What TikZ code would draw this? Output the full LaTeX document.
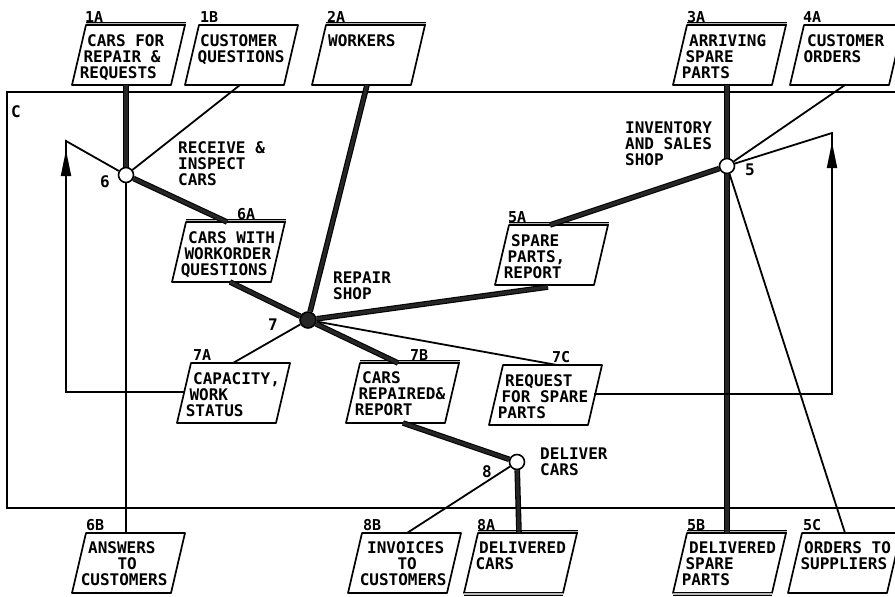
\documentclass[tikz,border=0pt]{standalone}
\usepackage{fontspec}
\newfontfamily\plotfont{DejaVu Sans Mono}
\newfontfamily\plotfontb{DejaVu Sans Mono Bold}
\usetikzlibrary{arrows.meta,calc}
\tikzset{
  bx/.style={line width=1.7pt, line join=round},
  bar/.style={line width=0.8pt, double=gray!55, double distance=1.8pt},
  heavy/.style={line width=1.1pt, double=black!85, double distance=3.4pt},
  info/.style={line width=1.8pt},
  boundary/.style={line width=2pt},
  txt/.style={font=\plotfontb\fontsize{16}{16}\selectfont, inner sep=0pt, anchor=base west},
  lbl/.style={font=\plotfontb\fontsize{15}{15}\selectfont, inner sep=0pt, anchor=base west},
  proc/.style={circle, draw, line width=1.6pt, minimum size=15pt, inner sep=0pt, fill=white},
  procfill/.style={circle, draw, line width=1.6pt, minimum size=16pt, inner sep=0pt, fill=black!85},
  fbarrow/.style={info, -{Triangle[length=26pt,width=10pt]}},
}
% parallelogram flow box: name, x bottom-left, y top, label x, label
\newcommand\pbox[5]{%
  \coordinate (#1-bl) at (#2,#3+60);
  \coordinate (#1-br) at (#2+99,#3+60);
  \coordinate (#1-tl) at (#2+14,#3);
  \coordinate (#1-tr) at (#2+113,#3);
  \draw[bx] (#1-bl) -- (#1-br) -- (#1-tr) -- (#1-tl) -- cycle;
  \node[lbl] (#1-id) at (#4,#3-3) {#5};
}
\newcommand\topbar[1]{\draw[bar] ($(#1-tl)+(0,-1.5)$) -- ($(#1-tr)+(1,-1.5)$);}
\newcommand\botbar[1]{\draw[bar] ($(#1-bl)+(0,1)$) -- ($(#1-br)+(0,1)$);}
% text lines: name, x, baseline y, shift per line, lines
\newcommand\ftxt[5]{%
  \foreach \tline [count=\i from 0] in {#5}{%
    \node[txt] (#1-t\i) at ({#2-#4*\i},{#3+16*\i}) {\tline};}%
}
\begin{document}
\begin{tikzpicture}[x=1pt,y=-1pt]
\useasboundingbox (0,0) rectangle (895,597);
\clip (0,0) rectangle (895,597);
\fill[white] (0,0) rectangle (895,597);

% system boundary C
\draw[boundary] (905,508) -- (7,508) -- (7,92) -- (905,92);
\node[txt] (clabel) at (11,117) {C};

% processes
\node[proc] (n6) at (126,175) {};
\node[proc] (n5) at (727,166) {};
\node[procfill] (n7) at (308,320) {};
\node[proc] (n8) at (517,462) {};
\node[txt, anchor=center] (n6-no) at (105,182) {6};
\node[txt, anchor=center] (n5-no) at (750,170) {5};
\node[txt, anchor=center] (n7-no) at (273,325) {7};
\node[txt, anchor=center] (n8-no) at (487,472) {8};
\ftxt{n6}{178}{153}{0}{{RECEIVE \&},{INSPECT},{CARS}}
\ftxt{n5}{625}{133}{0}{{INVENTORY},{AND SALES},{SHOP}}
\ftxt{n7}{333}{283}{0}{{REPAIR},{SHOP}}
\ftxt{n8}{540}{459}{0}{{DELIVER},{CARS}}

% flow boxes
\pbox{b1A}{72}{25}{85}{1A}   \topbar{b1A}
\ftxt{b1A}{87}{46}{3.7}{{CARS FOR},{REPAIR \&},{REQUESTS}}
\pbox{b1B}{185}{25}{200}{1B}
\ftxt{b1B}{200}{46}{2.5}{{CUSTOMER},{QUESTIONS}}
\pbox{b2A}{312}{25}{327}{2A}  \topbar{b2A}
\ftxt{b2A}{328}{46}{3.7}{{WORKERS}}
\pbox{b3A}{673}{25}{687}{3A}  \topbar{b3A}
\ftxt{b3A}{689}{46}{3.7}{{ARRIVING},{SPARE},{PARTS}}
\pbox{b4A}{790}{25}{803}{4A}
\ftxt{b4A}{807}{46}{3.7}{{CUSTOMER},{ORDERS}}
\pbox{b6A}{172}{222}{237}{6A}  \topbar{b6A}
\ftxt{b6A}{188}{243}{3.7}{{CARS WITH},{WORKORDER},{QUESTIONS}}
\pbox{b5A}{495}{225}{508}{5A}  \topbar{b5A}
\ftxt{b5A}{511}{246}{3.7}{{SPARE},{PARTS,},{REPORT}}
\pbox{b7A}{177}{363}{193}{7A}
\ftxt{b7A}{193}{384}{3.7}{{CAPACITY,},{WORK},{STATUS}}
\pbox{b7B}{346}{363}{410}{7B}  \topbar{b7B}
\ftxt{b7B}{362}{383}{3.7}{{CARS},{REPAIRED\&},{REPORT}}
\pbox{b7C}{489}{365}{552}{7C}
\ftxt{b7C}{505}{386}{3.7}{{REQUEST},{FOR SPARE},{PARTS}}
\pbox{b6B}{72}{533}{86}{6B}
\ftxt{b6B}{88}{553}{3.7}{{ANSWERS},{\hspace*{33pt}TO},{CUSTOMERS}}
\pbox{b8B}{348}{533}{363}{8B}
\ftxt{b8B}{367}{553}{3.7}{{INVOICES},{\hspace*{34pt}TO},{CUSTOMERS}}
\pbox{b8A}{464}{533}{477}{8A}  \topbar{b8A} \botbar{b8A}
\ftxt{b8A}{479}{553}{3.7}{{DELIVERED},{CARS}}
\pbox{b5B}{673}{533}{687}{5B}  \topbar{b5B} \botbar{b5B}
\ftxt{b5B}{689}{553}{3.7}{{DELIVERED},{SPARE},{PARTS}}
\pbox{b5C}{788}{533}{803}{5C}
\ftxt{b5C}{804}{553}{3.7}{{ORDERS TO},{SUPPLIERS}}

% connection points on boxes
\coordinate (p1A) at (126,85);
\coordinate (p1B) at (240,85);
\coordinate (p2A) at (367,85);
\coordinate (p3A) at (727,85);
\coordinate (p4A) at (845,85);
\coordinate (p6Ain) at (227,222);
\coordinate (p6Aout) at (230,282);
\coordinate (p5Ain) at (550,225);
\coordinate (p5Aout) at (548,287);
\coordinate (p7A) at (233,363);
\coordinate (p7B) at (398,363);
\coordinate (p7Bout) at (403,423);
\coordinate (p7C) at (557,365);
\coordinate (p6B) at (126,533);
\coordinate (p8B) at (407,533);
\coordinate (p8A) at (519,533);
\coordinate (p5B) at (727,533);
\coordinate (p5C) at (845,533);
% feedback routes
\coordinate (p7Aside) at (184,392);
\coordinate (fbL1) at (66,392);
\coordinate (fbL2) at (66,141);
\coordinate (arrLs) at (66,178);
\coordinate (arrLe) at (66,150);
\coordinate (p7Cside) at (594,394);
\coordinate (fbR1) at (832,394);
\coordinate (fbR2) at (832,133);
\coordinate (arrRs) at (832,170);
\coordinate (arrRe) at (832,142);

% connectors: process 6
\draw[heavy] (p1A) -- (n6);
\draw[info] (p1B) -- (n6);
\draw[info] (n6) -- (p6B);
\draw[heavy] (n6) -- (p6Ain);
% process 7
\draw[heavy] (p6Aout) -- (n7);
\draw[heavy] (p2A) -- (n7);
\draw[heavy] (n7) -- (p5Aout);
\draw[info] (n7) -- (p7A);
\draw[heavy] (n7) -- (p7B);
\draw[info] (n7) -- (p7C);
% process 8
\draw[heavy] (p7Bout) -- (n8);
\draw[heavy] (n8) -- (p8A);
\draw[info] (n8) -- (p8B);
% process 5
\draw[heavy] (p3A) -- (n5);
\draw[info] (p4A) -- (n5);
\draw[heavy] (n5) -- (p5Ain);
\draw[heavy] (n5) -- (p5B);
\draw[info] (n5) -- (p5C);
% feedback loops
\draw[info] (p7Aside) -- (fbL1) -- (fbL2) -- (n6);
\draw[fbarrow] (arrLs) -- (arrLe);
\draw[info] (p7Cside) -- (fbR1) -- (fbR2) -- (n5);
\draw[fbarrow] (arrRs) -- (arrRe);
\end{tikzpicture}
\end{document}
